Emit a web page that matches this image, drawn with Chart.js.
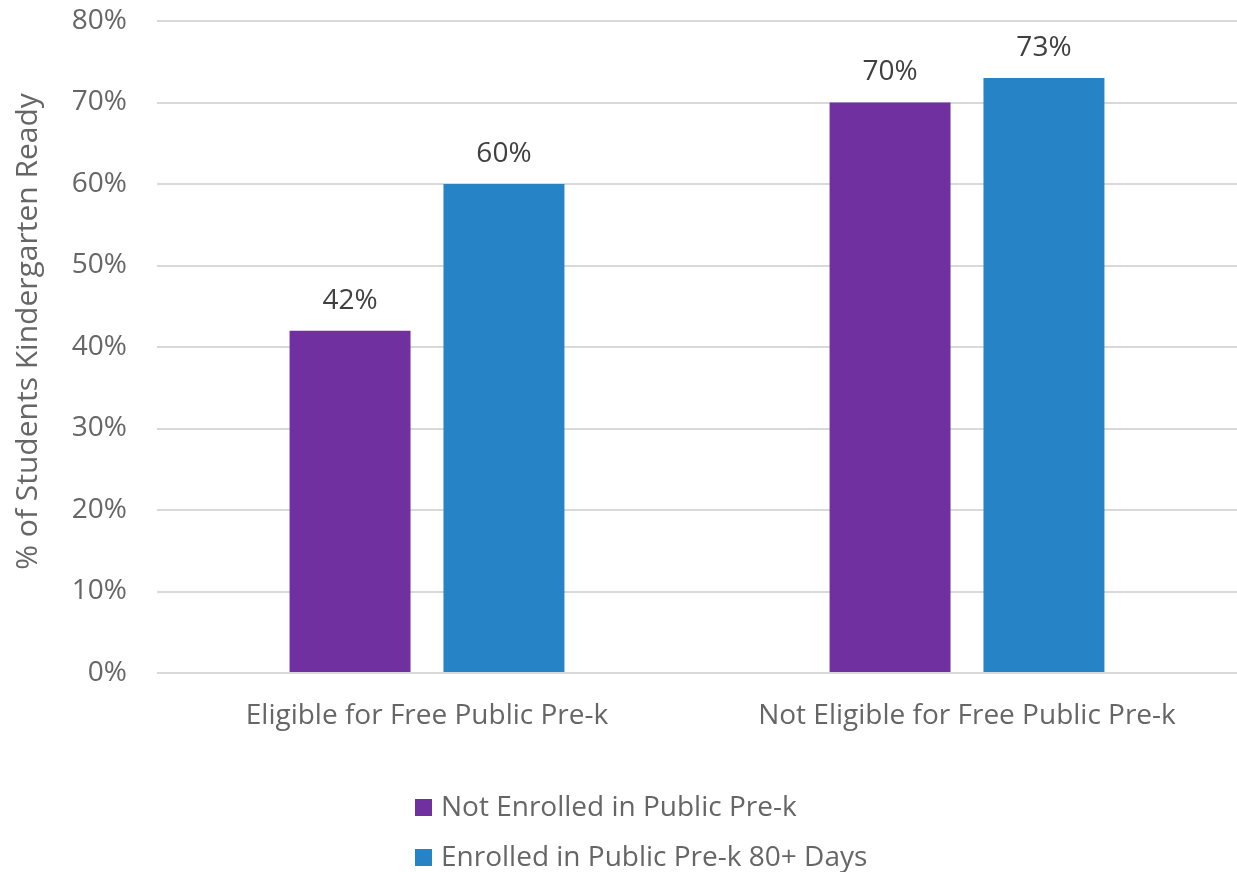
<!DOCTYPE html>
<html>
<head>
<meta charset="utf-8">
<script src="https://cdn.jsdelivr.net/npm/chart.js@4.4.0/dist/chart.umd.min.js"></script>
<style>
  html, body { margin: 0; padding: 0; background: #ffffff; }
  #wrap { width: 1237px; height: 872px; position: relative; }
</style>
</head>
<body>
<div id="wrap"><canvas id="c" width="1237" height="872"></canvas></div>
<script>
const categories = ["Eligible for Free Public Pre-k", "Not Eligible for Free Public Pre-k"];
const seriesNames = ["Not Enrolled in Public Pre-k", "Enrolled in Public Pre-k 80+ Days"];
const notEnrolled = [42, 70];
const enrolled80 = [60, 73];
const yTicks = [0, 10, 20, 30, 40, 50, 60, 70, 80];
const yTitle = "\u00A0\u00A0\u00A0\u00A0% of Students Kindergarten Ready";

const FONT = "'Open Sans', 'DejaVu Sans', sans-serif";
const GRAY = "#666666";

const dataLabels = {
  id: 'dataLabels',
  afterDatasetsDraw(chart) {
    const ctx = chart.ctx;
    ctx.save();
    ctx.font = "28px " + FONT;
    ctx.fillStyle = "#404040";
    ctx.textAlign = "center";
    ctx.textBaseline = "middle";
    chart.data.datasets.forEach((ds, i) => {
      chart.getDatasetMeta(i).data.forEach((bar, j) => {
        ctx.fillText(ds.data[j] + "%", bar.x, bar.y - 30);
      });
    });
    ctx.restore();
  }
};

const bottomLegend = {
  id: 'bottomLegend',
  afterDraw(chart) {
    const ctx = chart.ctx;
    ctx.save();
    ctx.font = "28px " + FONT;
    ctx.textAlign = "left";
    ctx.textBaseline = "middle";
    const rows = [808, 858];
    chart.data.datasets.forEach((ds, i) => {
      const y = rows[i];
      ctx.fillStyle = ds.backgroundColor;
      ctx.fillRect(415, y - 9, 17, 17);
      ctx.fillStyle = GRAY;
      ctx.fillText(ds.label, 441, y);
    });
    ctx.restore();
  }
};

new Chart(document.getElementById('c'), {
  type: 'bar',
  data: {
    labels: categories,
    datasets: [
      { label: seriesNames[0], data: notEnrolled, backgroundColor: "#7030A0" },
      { label: seriesNames[1], data: enrolled80, backgroundColor: "#2683C6" }
    ]
  },
  options: {
    responsive: false,
    animation: false,
    devicePixelRatio: 1,
    layout: { padding: { top: 0, right: 0, left: 0, bottom: 0 } },
    datasets: { bar: { categoryPercentage: 0.570, barPercentage: 0.786 } },
    plugins: {
      legend: { display: false },
      tooltip: { enabled: false }
    },
    scales: {
      x: {
        grid: { display: false, drawTicks: false },
        border: { display: false },
        ticks: { color: GRAY, font: { family: FONT, size: 28 }, padding: 26, maxRotation: 0 },
        afterFit(scale) { scale.height = 199; }
      },
      y: {
        min: 0, max: 80,
        afterBuildTicks(scale) { scale.ticks = yTicks.map(v => ({ value: v })); },
        grid: { color: "#d9d9d9", lineWidth: 2, drawTicks: false },
        border: { display: false },
        ticks: {
          color: GRAY, font: { family: FONT, size: 28 }, padding: 30,
          callback: v => v + "%"
        },
        title: { display: true, text: yTitle, color: GRAY, font: { family: FONT, size: 30 }, padding: { top: 10, bottom: 0 } },
        afterFit(scale) { scale.width = 157; scale.paddingTop = 21; scale.paddingBottom = 0; }
      }
    }
  },
  plugins: [dataLabels, bottomLegend]
});
</script>
</body>
</html>
